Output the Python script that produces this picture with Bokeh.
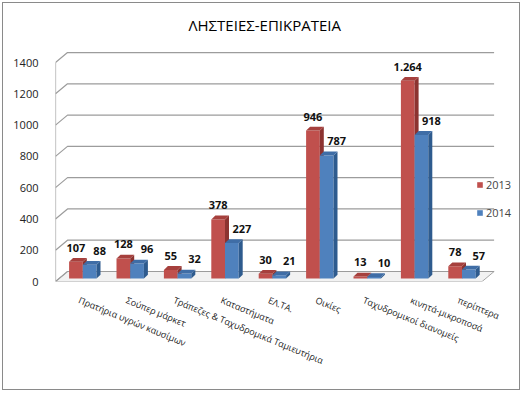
from bokeh.plotting import figure
from bokeh.models import FixedTicker, Range1d, Legend, LegendItem
from bokeh.core.properties import value
from bokeh.embed import file_html
from bokeh.resources import INLINE

# ---------------- data ----------------
categories = [
    "Πρατήρια υγρών καυσίμων",
    "Σούπερ μάρκετ",
    "Τράπεζες & Ταχυδρομικά Ταμιευτήρια",
    "Καταστήματα",
    "ΕΛ.ΤΑ.",
    "Οικίες",
    "Ταχυδρομικοί διανομείς",
    "κινητά-μικροποσά",
    "περίπτερα",
]
series_names = ["2013", "2014"]
values_2013 = [107, 128, 55, 378, 30, 946, 13, 1264, 78]
values_2014 = [88, 96, 32, 227, 21, 787, 10, 918, 57]
y_ticks = [0, 200, 400, 600, 800, 1000, 1200, 1400]
title_text = "ΛΗΣΤΕΙΕΣ-ΕΠΙΚΡΑΤΕΙΑ"

# ---------------- style / geometry ----------------
FONT = "Open Sans"
PX_PER_CAT = 47.4
PX_PER_UNIT = 0.1564
floor_dx = 12 / PX_PER_CAT
floor_dy = 10 / PX_PER_UNIT
bar_w = 13.7 / PX_PER_CAT
bar_shift_x = 3.6 / PX_PER_CAT
bar_base = 3 / PX_PER_UNIT
bar_dx = 4 / PX_PER_CAT
bar_dy = 3.8 / PX_PER_UNIT

W, H = 518, 388
ORIG = 2
F_LEFT, F_RIGHT, F_TOP, F_BOTTOM = 54, 515, 40, 280

x_start = -0.5
x_end = x_start + (F_RIGHT - F_LEFT) / PX_PER_CAT
y_end = (F_BOTTOM - F_TOP) / PX_PER_UNIT
n = len(categories)
x_floor_end = x_start + n

colors = {
    "2013": ("#C0504D", "#8C3330", "#A6403D"),
    "2014": ("#4F81BD", "#2E5B8E", "#3F6DA6"),
}

p = figure(
    width=W, height=H,
    x_range=Range1d(x_start, x_end), y_range=Range1d(0, y_end),
    output_backend="svg", toolbar_location=None,
    min_border_left=F_LEFT - ORIG, min_border_right=W - (F_RIGHT - ORIG),
    min_border_top=F_TOP - ORIG, min_border_bottom=H - (F_BOTTOM - ORIG),
    margin=(2, 2, 2, 2),
)
p.styles = {"border": "1px solid #8a8a8a", "box-sizing": "border-box"}
p.outline_line_color = None
p.grid.visible = False
p.background_fill_color = "white"
p.border_fill_color = "white"

# title
p.title.text = title_text
p.title.text_font = FONT
p.title.text_font_size = "15px"
p.title.text_font_style = "normal"
p.title.text_color = "#000000"
p.title.align = "left"
p.title.offset = 133
p.title.standoff = 14

# y axis
p.yaxis.ticker = FixedTicker(ticks=y_ticks)
p.yaxis.axis_line_color = None
p.yaxis.major_tick_line_color = None
p.yaxis.minor_tick_line_color = None
p.yaxis.major_label_standoff = 11
p.yaxis.major_label_text_font = FONT
p.yaxis.major_label_text_font_size = "11px"
p.yaxis.major_label_text_color = "#222222"

# x axis
p.xaxis.ticker = FixedTicker(ticks=list(range(n)))
p.xaxis.major_label_overrides = {i: c for i, c in enumerate(categories)}
p.xaxis.major_label_orientation = -0.39
p.xaxis.axis_line_color = None
p.xaxis.major_tick_line_color = None
p.xaxis.minor_tick_line_color = None
p.xaxis.major_label_standoff = 12
p.xaxis.major_label_text_font = FONT
p.xaxis.major_label_text_font_size = "9px"
p.xaxis.major_label_text_color = "#222222"

# floor
p.patch([x_start, x_floor_end, x_floor_end + floor_dx, x_start + floor_dx],
        [0, 0, floor_dy, floor_dy],
        fill_color="#f2f2f2", line_color="#a6a6a6", line_width=1)

# back wall gridlines
p.multi_line(
    xs=[[x_start, x_start + floor_dx, x_floor_end + floor_dx] for _ in y_ticks],
    ys=[[v, v + floor_dy, v + floor_dy] for v in y_ticks],
    line_color="#9c9c9c", line_width=1.2,
)
# front left edge
p.line([x_start, x_start], [0, y_ticks[-1]], line_color="#9c9c9c", line_width=1.2)

# bars
legend_items = []
for s, (name, vals) in enumerate(zip(series_names, [values_2013, values_2014])):
    front, side, top = colors[name]
    lefts = [i + bar_shift_x + (s - 1) * bar_w for i in range(n)]
    rights = [l + bar_w for l in lefts]
    bottoms = [bar_base] * n
    tops = [bar_base + v for v in vals]
    r = p.quad(left=lefts, right=rights, bottom=bottoms, top=tops,
               fill_color=front, line_color=None)
    p.patches(
        xs=[[rr, rr + bar_dx, rr + bar_dx, rr] for rr in rights],
        ys=[[b, b + bar_dy, t + bar_dy, t] for b, t in zip(bottoms, tops)],
        fill_color=side, line_color=None,
    )
    p.patches(
        xs=[[l, rr, rr + bar_dx, l + bar_dx] for l, rr in zip(lefts, rights)],
        ys=[[t, t, t + bar_dy, t + bar_dy] for t in tops],
        fill_color=top, line_color=None,
    )
    labels = [f"{v:,}".replace(",", ".") for v in vals]
    p.text(x=[(l + rr) / 2 for l, rr in zip(lefts, rights)], y=tops, text=labels,
           text_font=value(FONT), text_font_size="11px", text_font_style="bold",
           text_align="center", text_baseline="middle",
           x_offset=0 if s == 0 else 10, y_offset=-14, text_color="#111111")
    legend_items.append(LegendItem(label=name, renderers=[r]))

legend = Legend(items=legend_items, location=(421, 61),
                glyph_width=7, glyph_height=7, label_height=12,
                label_text_font=FONT, label_text_font_size="11px",
                label_standoff=3, spacing=13, padding=0, margin=0,
                border_line_color=None, background_fill_alpha=0)
p.add_layout(legend)

open("out.html", "w").write(file_html(p, INLINE))
